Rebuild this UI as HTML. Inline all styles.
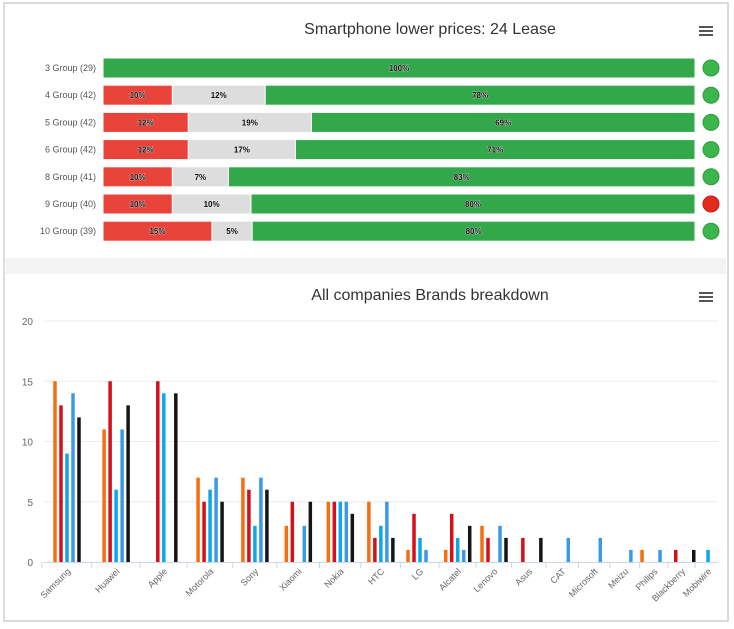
<!DOCTYPE html>
<html><head><meta charset="utf-8"><style>
body{margin:0;background:#fff;font-family:"Liberation Sans",sans-serif;}
#wrap{position:relative;width:734px;height:629px;overflow:hidden;}
</style></head><body>
<div id="wrap">
<svg id="svg" width="734" height="629" xmlns="http://www.w3.org/2000/svg">
<rect x="0" y="0" width="734" height="629" fill="#fff"/>
<rect x="4" y="3" width="724" height="618" fill="#fff" stroke="#cfcfcf" stroke-width="1.5"/>
<rect x="6" y="258" width="720" height="16" fill="#f3f3f3"/>
<text x="430" y="34" text-anchor="middle" font-size="16" fill="#333">Smartphone lower prices: 24 Lease</text>
<text x="430" y="300" text-anchor="middle" font-size="16" fill="#333">All companies Brands breakdown</text>
<g><rect x="699" y="26" width="14" height="2" fill="#555"/><rect x="699" y="30" width="14" height="2" fill="#555"/><rect x="699" y="34" width="14" height="2" fill="#555"/></g>
<g><rect x="699" y="292" width="14" height="2" fill="#555"/><rect x="699" y="296" width="14" height="2" fill="#555"/><rect x="699" y="300" width="14" height="2" fill="#555"/></g>
<g id="topchart"></g>
<g id="bottomchart"></g>
</svg>
</div>
<script>
// ---- top stacked chart data ----
const groups=["3 Group (29)","4 Group (42)","5 Group (42)","6 Group (42)","8 Group (41)","9 Group (40)","10 Group (39)"];
const redVals=[0,11.7,14.4,14.4,11.7,11.7,18.4];
const grayVals=[0,15.7,20.8,18.1,9.5,13.3,6.8];
const greenVals=[100,72.6,64.8,67.5,78.8,75,74.8];
const redLabels=["","10%","12%","12%","10%","10%","15%"];
const grayLabels=["","12%","19%","17%","7%","10%","5%"];
const greenLabels=["100%","78%","69%","71%","83%","80%","80%"];
const statusVals=["ok","ok","ok","ok","ok","bad","ok"];

// ---- bottom grouped chart data ----
const brands=["Samsung","Huawei","Apple","Motorola","Sony","Xiaomi","Nokia","HTC","LG","Alcatel","Lenovo","Asus","CAT","Microsoft","Meizu","Philips","Blackberry","Mobiwire"];
const s1=[15,11,null,7,7,3,5,5,1,1,3,null,null,null,null,1,null,null];
const s2=[13,15,15,5,6,5,5,2,4,4,2,2,null,null,null,null,1,null];
const s3=[9,6,14,6,3,null,5,3,2,2,null,null,null,null,null,null,null,1];
const s4=[14,11,null,7,7,3,5,5,1,1,3,null,2,2,1,1,null,null];
const s5=[12,13,14,5,6,5,4,2,null,3,2,2,null,null,null,null,1,null];
const yTicks=[0,5,10,15,20];

const NS="http://www.w3.org/2000/svg";
function mk(tag,attrs,parent){const e=document.createElementNS(NS,tag);for(const k in attrs)e.setAttribute(k,attrs[k]);parent.appendChild(e);return e;}

// top chart
const topG=document.getElementById('topchart');
const X0=103,X1=695,rowY0=68,rowStep=27.2,barH=19;
const xs=v=>(v/100)*(X1-X0);
const rowY=i=>rowY0+i*rowStep;
groups.forEach((g,i)=>{
  const cy=rowY(i);
  const t=mk('text',{x:96,y:cy+3,'text-anchor':'end','font-size':9,fill:'#555'},topG);t.textContent=g;
  
  
  let x=X0;
  const segs=[[redVals[i],'#e8443a',redLabels[i],'red'],[grayVals[i],'#dddddd',grayLabels[i],'gray'],[greenVals[i],'#33a84a',greenLabels[i],'green']];
  segs.forEach(s=>{
    const w=xs(s[0]);if(w<=0)return;
    const r=mk('rect',{x:x+0.5,y:cy-barH/2,width:w-1,height:barH,fill:s[1]},topG);
    
    
    const l=mk('text',{x:x+w/2,y:cy+3,'text-anchor':'middle','font-size':8,'font-weight':'bold',fill:'#000',stroke:'#fff','stroke-width':0.6,'paint-order':'stroke'},topG);l.textContent=s[2];
    
    
    x+=w;
  });
  const c=mk('circle',{cx:711,cy:cy,r:8,fill:statusVals[i]==='ok'?'#3cb54a':'#e32b1e',stroke:statusVals[i]==='ok'?'#2a9c3a':'#c01b12','stroke-width':1},topG);
  
  
});

// bottom chart
const botG=document.getElementById('bottomchart');
const PX0=44,PX1=718,PY0=562,PY1=321;
const yv=v=>PY0-(v/20)*(PY0-PY1);
// category axis (slightly compressed toward the right, as in the reference)
const xc=t=>67+49.83*t-0.713*t*t;
const xb=i=>xc(i-0.5);
yTicks.forEach(t=>{
  if(t>0){const gl=mk('line',{x1:PX0,x2:PX1,y1:yv(t),y2:yv(t),stroke:'#ececec','stroke-width':1},botG);
  
  }
  const tl=mk('text',{x:33,y:yv(t)+4,'text-anchor':'end','font-size':10,fill:'#666'},botG);tl.textContent=t;
  
  
});
const ax=mk('line',{x1:PX0,x2:PX1,y1:PY0+0.5,y2:PY0+0.5,stroke:'#ccd6eb','stroke-width':1},botG);


const series=[s1,s2,s3,s4,s5];
const colors=['#f56e0f','#d4101c','#0ca6ea','#3d98e6','#151515'];
const slot=6,bw=3.5;
brands.forEach((b,i)=>{
  const tk=mk('line',{x1:xb(i),x2:xb(i),y1:PY0,y2:PY0+6,stroke:'#ccd6eb'},botG);
  
  
  const cx=xc(i);
  series.forEach((s,k)=>{
    const v=s[i];if(v==null)return;
    const x=cx-2.5*slot+k*slot+(slot-bw)/2;
    const r=mk('rect',{x:x,y:yv(v),width:bw,height:PY0-yv(v),fill:colors[k]},botG);
    
    
  });
  const l=mk('text',{x:cx+4,y:PY0+10,'text-anchor':'end','font-size':9,fill:'#666',transform:`rotate(-45 ${cx+4} ${PY0+10})`},botG);l.textContent=b;
  
  
});
</script>
</body></html>
